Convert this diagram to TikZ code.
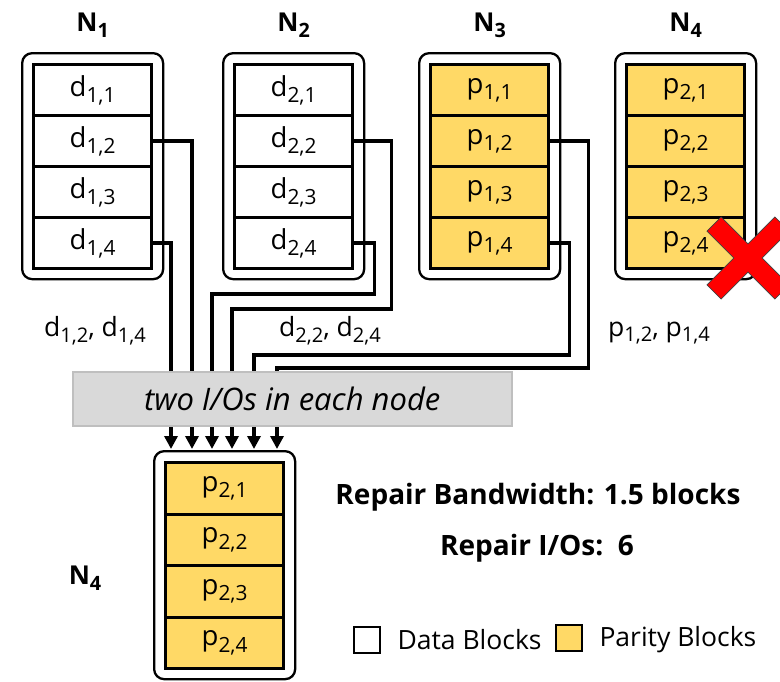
\documentclass[tikz,border=0pt]{standalone}
\usepackage{fontspec}
\usepackage{graphicx}
\setmainfont{Open Sans}
\usetikzlibrary{arrows.meta}

\definecolor{parity}{RGB}{255,217,102}
\definecolor{boxgray}{RGB}{217,217,217}
\definecolor{boxedge}{RGB}{191,191,191}
\definecolor{crossred}{RGB}{255,0,0}

% lowered, smaller index text
\newcommand\lo[1]{\raisebox{-0.22em}{\scalebox{0.76}{#1}}}

\tikzset{
  blk/.style={draw, line width=3.2pt, minimum width=118pt, inner sep=0pt,
    anchor=north west, font=\fontsize{27.5}{27.5}\selectfont},
  datablk/.style={blk, fill=white},
  parblk/.style={blk, fill=parity},
  shell/.style={draw, line width=2.3pt, rounded corners=10pt, fill=white,
    minimum width=141pt, inner sep=0pt, anchor=north west},
  conn/.style={line width=3.3pt, -{Triangle[width=13pt,length=13pt]}},
  nodename/.style={font=\bfseries\fontsize{26}{26}\selectfont},
  lbl/.style={font=\fontsize{26.5}{26.5}\selectfont},
  graybox/.style={draw=boxedge, fill=boxgray, line width=1.5pt, anchor=north west,
    minimum width=439pt, minimum height=54pt, inner sep=0pt,
    font=\itshape\fontsize{31}{31}\selectfont},
  info/.style={font=\bfseries\fontsize{28}{28}\selectfont},
  legendsq/.style={draw, line width=2.3pt, minimum size=26pt, inner sep=0pt},
}

% name, x, y, block style, letter, first index, block height
\newcommand\drawstack[7]{%
  \node[shell, minimum height={4*#7+22}] (#1) at ({#2-11},{#3-11}) {};
  \foreach \k in {1,...,4}
    \node[#4, minimum height=#7pt] (#1-\k) at (#2,{#3+(\k-1)*#7}) {#5\lo{#6,\k}};
}

\begin{document}
\begin{tikzpicture}[x=1pt,y=-1pt]
  \useasboundingbox (0,0) rectangle (780,681);

  % storage nodes
  \drawstack{n1}{32}{63}{datablk}{d}{1}{51}
  \drawstack{n2}{233}{63}{datablk}{d}{2}{51}
  \drawstack{n3}{429}{63}{parblk}{p}{1}{51}
  \drawstack{n4}{625}{63}{parblk}{p}{2}{51}
  \drawstack{r}{164}{461}{parblk}{p}{2}{51.5}

  \node[nodename] (l1) at (n1.north |- 0,25) {N\lo{1}};
  \node[nodename] (l2) at (n2.north |- 0,25) {N\lo{2}};
  \node[nodename] (l3) at (n3.north |- 0,25) {N\lo{3}};
  \node[nodename] (l4) at (n4.north |- 0,25) {N\lo{4}};
  \node[nodename] (lr) at (85,578) {N\lo{4}};

  % arrow ends on top of the new node
  \coordinate (t1) at (171,449);
  \coordinate (t2) at (192,449);
  \coordinate (t3) at (212,449);
  \coordinate (t4) at (232,449);
  \coordinate (t5) at (254,449);
  \coordinate (t6) at (277,449);

  % block transfers
  \draw[conn] (n1-4.east) -| (t1);
  \draw[conn] (n1-2.east) -| (t2);
  \draw[conn] (n2-4.east) -| ++(20,51) -| (t3);
  \draw[conn] (n2-2.east) -| ++(37,168) -| (t4);
  \draw[conn] (n3-4.east) -| ++(19,112) -| (t5);
  \draw[conn] (n3-2.east) -| ++(38,227) -| (t6);

  \node[graybox] (io) at (72,371) {two I/Os in each node};

  \node[lbl] (s1) at (95,331) {d\lo{1,2}, d\lo{1,4}};
  \node[lbl] (s2) at (330,331) {d\lo{2,2}, d\lo{2,4}};
  \node[lbl] (s3) at (659,333) {p\lo{1,2}, p\lo{1,4}};

  \node[info] (bw) at (538,497) {Repair Bandwidth: 1.5 blocks};
  \node[info] (ios) at (537,548) {Repair I/Os:\ \ 6};

  % legend
  \node[legendsq, fill=white] (kd) at (367,640) {};
  \node[lbl, anchor=west] (kdt) at (394,640) {Data Blocks};
  \node[legendsq, fill=parity] (kp) at (569,638) {};
  \node[lbl, anchor=west] (kpt) at (596,640) {Parity Blocks};

  % failed node mark
  \begin{scope}
    \clip (0,0) rectangle (780,681);
    \filldraw[fill=crossred, draw=black!75, line width=0.8pt,
      shift={(748,258)}, rotate=45]
      (-10,-48) -- (10,-48) -- (10,-10) -- (48,-10) -- (48,10) -- (10,10)
      -- (10,48) -- (-10,48) -- (-10,10) -- (-48,10) -- (-48,-10)
      -- (-10,-10) -- cycle;
  \end{scope}
\end{tikzpicture}
\end{document}
